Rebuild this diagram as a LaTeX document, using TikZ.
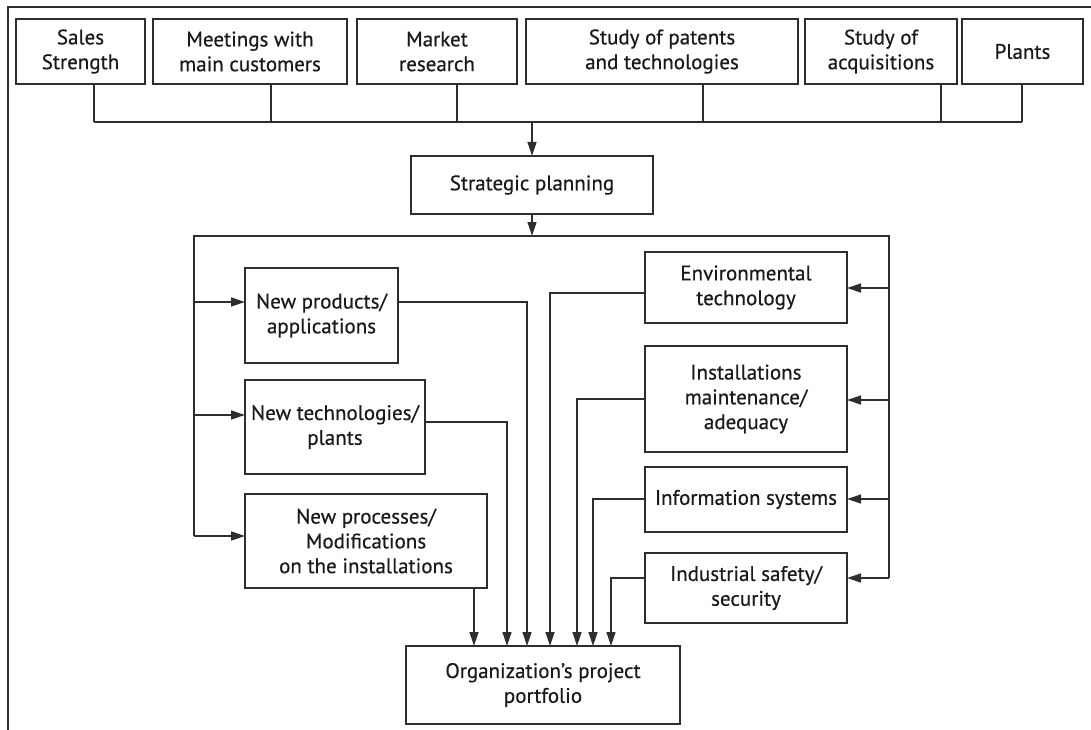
\documentclass[tikz,border=0pt]{standalone}
\usepackage{fontspec}
\setmainfont{PT Sans}
\newfontfamily\medfont{PT Sans}[FakeBold=0.5]
\usetikzlibrary{arrows.meta,calc}
\definecolor{linec}{HTML}{2E2E2E}
\definecolor{textc}{HTML}{1A1A1A}
\begin{document}
\begin{tikzpicture}[x=1pt,y=-1pt,
  box/.style={draw=linec, line width=1.4pt, inner sep=0pt, outer sep=0pt, align=center,
    font=\medfont\fontsize{21}{24.8}\selectfont, text=textc},
  conn/.style={draw=linec, line width=1.3pt},
  arr/.style={conn, -{Triangle[length=14pt,width=9pt]}}]
\useasboundingbox (0,0) rectangle (1091,730);
% outer frame (open)
\draw[conn] (1091,7) -- (8,7) -- (8,730);
% top row
\node[box, minimum width=129pt, minimum height=65pt] (sales) at (80.5,51.5) {Sales\\Strength};
\node[box, minimum width=194pt, minimum height=65pt] (meet) at (250,51.5) {Meetings with\\main customers};
\node[box, minimum width=160pt, minimum height=65pt] (market) at (437,51.5) {Market\\research};
\node[box, minimum width=272pt, minimum height=65pt] (patents) at (662,51.5) {Study of patents\\and technologies};
\node[box, minimum width=152pt, minimum height=65pt] (acq) at (881,51.5) {Study of\\acquisitions};
\node[box, minimum width=121pt, minimum height=65pt] (plants) at (1022.5,51.5) {Plants};
% middle
\node[box, minimum width=242pt, minimum height=58pt] (splan) at (532,185) {Strategic planning};
% left column
\node[box, minimum width=153pt, minimum height=95pt] (np) at (321.5,315.5) {New products/\\applications};
\node[box, minimum width=180pt, minimum height=94pt] (nt) at (335,427) {New technologies/\\plants};
\node[box, minimum width=242pt, minimum height=94pt] (npr) at (366,541) {New processes/\\Modifications\\on the installations};
% right column
\node[box, minimum width=202pt, minimum height=71pt] (env) at (746,287.5) {Environmental\\technology};
\node[box, minimum width=202pt, minimum height=106pt] (inst) at (746,399) {Installations\\maintenance/\\adequacy};
\node[box, minimum width=202pt, minimum height=65pt] (info) at (746,499.5) {Information systems};
\node[box, minimum width=202pt, minimum height=70pt] (safe) at (746,588) {Industrial safety/\\security};
% bottom
\node[box, minimum width=274pt, minimum height=78pt] (port) at (543,685) {Organization’s project\\portfolio};
% coordinates
\coordinate (bus) at (0,122);
\coordinate (bus2) at (0,236);
\coordinate (s1) at (94,122);
\coordinate (s2) at (271,122);
\coordinate (s3) at (457,122);
\coordinate (s4) at (703,122);
\coordinate (s5) at (941,122);
\coordinate (s6) at (1022,122);
\coordinate (lx) at (194,0);
\coordinate (rx) at (889,0);
\coordinate (a1) at (194,302);
\coordinate (a2) at (194,415);
\coordinate (a3) at (194,536);
\coordinate (r1) at (889,288);
\coordinate (r2) at (889,400);
\coordinate (r3) at (889,499);
\coordinate (r4) at (889,578);
\coordinate (o1) at (527,302);
\coordinate (o2) at (507,422);
\coordinate (o3) at (474,0);
\coordinate (q1) at (550,293);
\coordinate (q2) at (577,399);
\coordinate (q3) at (593,499);
\coordinate (q4) at (611,578);
% top bus
\draw[conn] (s1 |- sales.south) -- (s1);
\draw[conn] (s2 |- meet.south) -- (s2);
\draw[conn] (s3 |- market.south) -- (s3);
\draw[conn] (s4 |- patents.south) -- (s4);
\draw[conn] (s5 |- acq.south) -- (s5);
\draw[conn] (s6 |- plants.south) -- (s6);
\draw[conn] (s1) -- (s6);
\draw[arr] (splan.north |- bus) -- (splan.north);
\draw[arr] (splan.south) -- (splan.south |- bus2);
% second bus
\draw[conn] (a3) -- (lx |- bus2) -- (rx |- bus2) -- (r4);
% left arrows
\draw[arr] (a1) -- (np.west |- a1);
\draw[arr] (a2) -- (nt.west |- a2);
\draw[arr] (a3) -- (npr.west |- a3);
% right arrows
\draw[arr] (r1) -- (env.east |- r1);
\draw[arr] (r2) -- (inst.east |- r2);
\draw[arr] (r3) -- (info.east |- r3);
\draw[arr] (r4) -- (safe.east |- r4);
% into portfolio
\draw[arr] (np.east |- o1) -- (o1) -- (o1 |- port.north);
\draw[arr] (nt.east |- o2) -- (o2) -- (o2 |- port.north);
\draw[arr] (o3 |- npr.south) -- (o3 |- port.north);
\draw[arr] (env.west |- q1) -- (q1) -- (q1 |- port.north);
\draw[arr] (inst.west |- q2) -- (q2) -- (q2 |- port.north);
\draw[arr] (info.west |- q3) -- (q3) -- (q3 |- port.north);
\draw[arr] (safe.west |- q4) -- (q4) -- (q4 |- port.north);
\end{tikzpicture}
\end{document}
